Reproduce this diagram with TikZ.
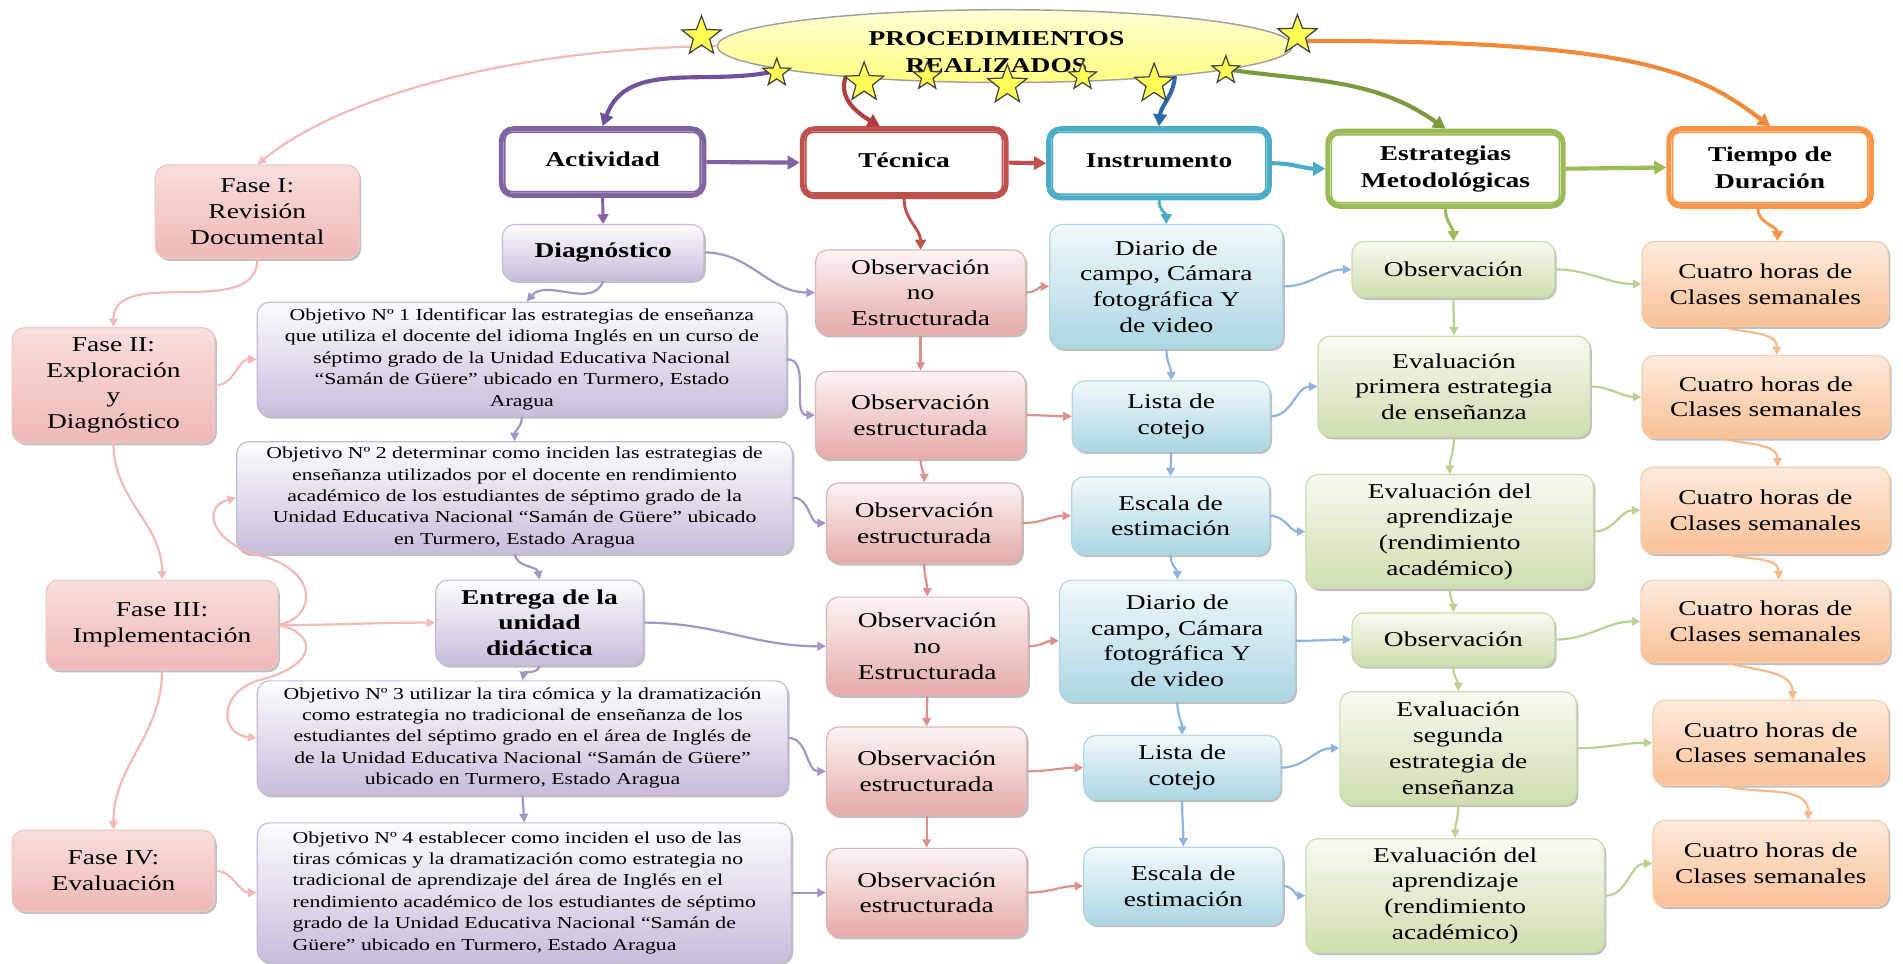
\documentclass[tikz,border=0pt]{standalone}
\usepackage{fontspec}
\setmainfont{Liberation Serif}[FakeStretch=1.3]
\usetikzlibrary{shapes.geometric,arrows.meta,calc,shadows}

\definecolor{cPur}{HTML}{8064A2}\definecolor{cPurD}{HTML}{6F529B}\definecolor{cPurL}{HTML}{A396C6}
\definecolor{cRed}{HTML}{C0504D}\definecolor{cRedD}{HTML}{B03F3C}\definecolor{cRedL}{HTML}{DB918F}
\definecolor{cBlu}{HTML}{4BACC6}\definecolor{cBluD}{HTML}{2F6BA8}\definecolor{cBluL}{HTML}{8FB3DC}
\definecolor{cGrn}{HTML}{9BBB59}\definecolor{cGrnD}{HTML}{7A9A3E}\definecolor{cGrnL}{HTML}{BBD193}
\definecolor{cOrg}{HTML}{F79646}\definecolor{cOrgD}{HTML}{F08A3A}\definecolor{cOrgL}{HTML}{F8B888}
\definecolor{cPinkL}{HTML}{F3B9B9}
\definecolor{phT}{HTML}{F9DEDD}\definecolor{phD}{HTML}{EEB8B6}\definecolor{phB}{HTML}{EBC9C8}
\definecolor{acT}{HTML}{FDFCFE}\definecolor{acD}{HTML}{C8BDDB}\definecolor{acB}{HTML}{C5BBD9}
\definecolor{teT}{HTML}{FCF4F4}\definecolor{teD}{HTML}{E5AAA8}\definecolor{teB}{HTML}{DDB5B4}
\definecolor{inT}{HTML}{F1F9FB}\definecolor{inD}{HTML}{ABD6E3}\definecolor{inB}{HTML}{B4D6E0}
\definecolor{esT}{HTML}{F8FAF2}\definecolor{esD}{HTML}{CEDEAE}\definecolor{esB}{HTML}{CCDCB0}
\definecolor{tiT}{HTML}{FDEBDD}\definecolor{tiD}{HTML}{F9C096}\definecolor{tiB}{HTML}{F6CDAE}
\definecolor{elT}{HTML}{FFFFD6}\definecolor{elD}{HTML}{FFFF80}\definecolor{elB}{HTML}{A0A0A0}
\definecolor{starY}{HTML}{FFFF55}

\begin{document}
\begin{tikzpicture}[x=0.5pt,y=0.5pt,
  box/.style={rounded corners=5pt, inner sep=1pt, align=center, line width=0.5pt,
    font=\fontsize{8.7}{10.6}\selectfont,
    drop shadow={shadow xshift=0.8pt, shadow yshift=-1pt, opacity=0.25, fill=black}},
  phasebox/.style={box, draw=phB, top color=phT, bottom color=phD},
  actbox/.style={box, draw=acB, top color=acT, bottom color=acD},
  objbox/.style={actbox, font=\fontsize{6.9}{8.8}\selectfont},
  tecbox/.style={box, draw=teB, top color=teT, bottom color=teD},
  insbox/.style={box, draw=inB, top color=inT, bottom color=inD},
  estbox/.style={box, draw=esB, top color=esT, bottom color=esD},
  timbox/.style={box, draw=tiB, top color=tiT, bottom color=tiD},
  hdr/.style={draw=#1, line width=2pt, fill=white, rounded corners=5pt, align=center,
    inner sep=1pt, font=\bfseries\fontsize{8.7}{11}\selectfont},
  starbig/.style={star, star points=5, star point ratio=2.4, minimum size=17pt, inner sep=0pt,
    draw=black!75, line width=0.5pt, fill=starY},
  starsmall/.style={starbig, minimum size=12pt},
  big/.style={line width=1.7pt, -{Triangle[length=5pt,width=5.5pt]}},
  mid/.style={line width=1.2pt, -{Triangle[length=4pt,width=4.5pt]}},
  thn/.style={line width=0.9pt, -{Triangle[length=3.5pt,width=3.5pt]}}
]
\fill[white] (0,0) rectangle (1568,-794);
\useasboundingbox (0,0) rectangle (1568,-794);

% ---------- title ----------
\node[ellipse, draw=elB, line width=0.6pt, top color=elT, bottom color=elD,
  minimum width=237pt, minimum height=30pt, inner sep=0pt] (title) at (828,-38) {};
\node[font=\bfseries\fontsize{8.7}{11}\selectfont, align=center] (titletext) at (821,-43) {PROCEDIMIENTOS\\REALIZADOS};

% ---------- headers ----------
\node[hdr=cPur, minimum width=83.5pt, minimum height=27.5pt] (act) at (496.5,-133.5) {\raisebox{2.2pt}{Actividad}};
\node[hdr=cRed, minimum width=84pt, minimum height=28pt] (tec) at (745,-134) {\raisebox{2.2pt}{Técnica}};
\node[hdr=cBlu, minimum width=91pt, minimum height=28.5pt] (ins) at (955,-134.5) {\raisebox{2.2pt}{Instrumento}};
\node[hdr=cGrn, minimum width=97pt, minimum height=31pt] (est) at (1191,-139) {Estrategias\\Metodológicas};
\node[hdr=cOrg, minimum width=83.5pt, minimum height=32pt] (tie) at (1458.5,-138) {Tiempo de\\Duración};
\foreach \nm/\cc in {act/cPur, tec/cRed, ins/cBlu, est/cGrn, tie/cOrg}{
  \draw[color=\cc, line width=0.7pt, rounded corners=3pt] ($(\nm.south west)+(5,5)$) rectangle ($(\nm.north east)+(-5,-5)$);
}

% ---------- phases ----------
\node[phasebox, minimum width=84pt, minimum height=38.5pt] (f1) at (212,-174.5) {Fase I:\\Revisión\\Documental};
\node[phasebox, minimum width=83.5pt, minimum height=47.5pt] (f2) at (93.5,-317.5) {Fase II:\\Exploración\\y\\Diagnóstico};
\node[phasebox, minimum width=95.5pt, minimum height=37pt] (f3) at (133.5,-515) {Fase III:\\Implementación};
\node[phasebox, minimum width=83.5pt, minimum height=33.5pt] (f4) at (93.5,-717.5) {Fase IV:\\Evaluación};

% ---------- activities ----------
\node[actbox, minimum width=83pt, minimum height=23pt] (diag) at (497,-208) {\textbf{Diagnóstico}};
\node[objbox, minimum width=218pt, minimum height=47pt] (o1) at (430,-296) {Objetivo Nº 1 Identificar las estrategias de enseñanza\\que utiliza el docente del idioma Inglés en un curso de\\séptimo grado de la Unidad Educativa Nacional\\“Samán de Güere” ubicado en Turmero, Estado\\Aragua};
\node[objbox, minimum width=229pt, minimum height=46pt] (o2) at (424,-410) {Objetivo Nº 2 determinar como inciden las estrategias de\\enseñanza utilizados por el docente en rendimiento\\académico de los estudiantes de séptimo grado de la\\Unidad Educativa Nacional “Samán de Güere” ubicado\\en Turmero, Estado Aragua};
\node[actbox, minimum width=85.5pt, minimum height=35pt] (ent) at (444.5,-513) {\textbf{Entrega de la}\\\textbf{unidad}\\\textbf{didáctica}};
\node[objbox, minimum width=218.5pt, minimum height=47pt] (o3) at (430.5,-608) {Objetivo Nº 3 utilizar la tira cómica y la dramatización\\como estrategia no tradicional de enseñanza de los\\estudiantes del séptimo grado en el área de Inglés de\\de la Unidad Educativa Nacional “Samán de Güere”\\ubicado en Turmero, Estado Aragua};
\node[objbox, align=left, minimum width=220pt, minimum height=57.5pt] (o4) at (432,-735.5) {Objetivo Nº 4 establecer como inciden el uso de las\\tiras cómicas y la dramatización como estrategia no\\tradicional de aprendizaje del área de Inglés en el\\rendimiento académico de los estudiantes de séptimo\\grado de la Unidad Educativa Nacional “Samán de\\Güere” ubicado en Turmero, Estado Aragua};

% ---------- techniques ----------
\node[tecbox, minimum width=86.5pt, minimum height=35pt] (t1) at (758.5,-241) {Observación\\no\\Estructurada};
\node[tecbox, minimum width=86.5pt, minimum height=36pt] (t2) at (758.5,-342) {Observación\\estructurada};
\node[tecbox, minimum width=80.5pt, minimum height=33pt] (t3) at (761.5,-431) {Observación\\estructurada};
\node[tecbox, minimum width=83pt, minimum height=40.5pt] (t4) at (764,-532.5) {Observación\\no\\Estructurada};
\node[tecbox, minimum width=82.5pt, minimum height=36.5pt] (t5) at (763.5,-635.5) {Observación\\estructurada};
\node[tecbox, minimum width=82.5pt, minimum height=36.5pt] (t6) at (763.5,-735.5) {Observación\\estructurada};

% ---------- instruments ----------
\node[insbox, minimum width=96pt, minimum height=51pt] (i1) at (961,-236) {Diario de\\campo, Cámara\\fotográfica Y\\de video};
\node[insbox, minimum width=81.5pt, minimum height=29pt] (i2) at (965,-343) {Lista de\\cotejo};
\node[insbox, minimum width=81.5pt, minimum height=32pt] (i3) at (964.5,-425) {Escala de\\estimación};
\node[insbox, minimum width=97pt, minimum height=50pt] (i4) at (970,-528) {Diario de\\campo, Cámara\\fotográfica Y\\de video};
\node[insbox, minimum width=81pt, minimum height=26.5pt] (i5) at (974,-632.5) {Lista de\\cotejo};
\node[insbox, minimum width=82pt, minimum height=32pt] (i6) at (975,-730) {Escala de\\estimación};

% ---------- strategies ----------
\node[estbox, minimum width=83.5pt, minimum height=23pt] (e1) at (1197.5,-222) {Observación};
\node[estbox, minimum width=112pt, minimum height=41.5pt] (e2) at (1198,-318.5) {Evaluación\\primera estrategia\\de enseñanza};
\node[estbox, minimum width=118.5pt, minimum height=47pt] (e3) at (1194.5,-438) {Evaluación del\\aprendizaje\\(rendimiento\\académico)};
\node[estbox, minimum width=83.5pt, minimum height=22pt] (e4) at (1197.5,-527) {Observación};
\node[estbox, minimum width=97.5pt, minimum height=46.5pt] (e5) at (1201.5,-616.5) {Evaluación\\segunda\\estrategia de\\enseñanza};
\node[estbox, minimum width=123pt, minimum height=47pt] (e6) at (1199,-738) {Evaluación del\\aprendizaje\\(rendimiento\\académico)};

% ---------- time ----------
\node[timbox, minimum width=101.5pt, minimum height=35pt] (c1) at (1454.5,-234) {Cuatro horas de\\Clases semanales};
\node[timbox, minimum width=102pt, minimum height=34pt] (c2) at (1455,-327) {Cuatro horas de\\Clases semanales};
\node[timbox, minimum width=102.5pt, minimum height=35.5pt] (c3) at (1454.5,-420.5) {Cuatro horas de\\Clases semanales};
\node[timbox, minimum width=102.5pt, minimum height=34pt] (c4) at (1454.5,-512) {Cuatro horas de\\Clases semanales};
\node[timbox, minimum width=97pt, minimum height=35pt] (c5) at (1459,-612) {Cuatro horas de\\Clases semanales};
\node[timbox, minimum width=97pt, minimum height=35.5pt] (c6) at (1459,-711.5) {Cuatro horas de\\Clases semanales};

% ---------- title connectors ----------
\draw[big, cPurD] (title.186) to[out=195,in=70] (act.north);
\draw[big, cRedD] (title.191) to[out=-110,in=150] ($(tec.north)+(-20,0)$);
\draw[big, cBluD] (title.-10) to[out=-95,in=85] (ins.north);
\draw[big, cGrnD] (title.-6) to[out=-8,in=145] (est.north);
\draw[big, cOrgD] (title.1) .. controls (1350,-32) and (1400,-60) .. (tie.north);
\draw[thn, cPinkL] (title.west) .. controls (420,-40) and (280,-80) .. (f1.north);

% ---------- header chain ----------
\draw[big, cPur] (act.east) -- (tec.west);
\draw[big, cRed] (tec.east) -- (ins.west);
\draw[big, cBlu] (ins.east) to[out=0,in=180] (est.west);
\draw[big, cGrn] (est.east) -- (tie.west);

\draw[mid, cPur] (act.south) -- (diag.north);
\draw[mid, cRed] (tec.south) to[out=-90,in=90] (t1.north);
\draw[mid, cBlu] (ins.south) to[out=-90,in=90] (i1.north);
\draw[mid, cGrn] (est.south) to[out=-90,in=90] (e1.north);
\draw[mid, cOrg] ($(tie.south)+(-10,0)$) to[out=-90,in=90] ($(c1.north)+(10,0)$);

% ---------- column chains ----------
\foreach \a/\b in {t1/t2, t2/t3, t3/t4, t4/t5, t5/t6}{
  \draw[thn, cRedL] (\a.south) to[out=-90,in=90] (\b.north);}
\foreach \a/\b in {i1/i2, i2/i3, i3/i4, i4/i5, i5/i6}{
  \draw[thn, cBluL] (\a.south) to[out=-90,in=90] (\b.north);}
\foreach \a/\b in {e1/e2, e2/e3, e3/e4, e4/e5, e5/e6}{
  \draw[thn, cGrnL] (\a.south) to[out=-90,in=90] (\b.north);}
\draw[thn, cOrgL] ($(c1.south)+(-35,0)$) to[out=-15,in=90] ($(c2.north)+(9,0)$);
\draw[thn, cOrgL] ($(c2.south)+(-35,0)$) to[out=-15,in=90] ($(c3.north)+(10,0)$);
\draw[thn, cOrgL] ($(c3.south)+(-33,0)$) to[out=-15,in=90] ($(c4.north)+(11,0)$);
\draw[thn, cOrgL] ($(c4.south)+(-30,0)$) to[out=-15,in=90] ($(c5.north)+(18,0)$);
\draw[thn, cOrgL] ($(c5.south)+(-38,0)$) to[out=-15,in=90] ($(c6.north)+(31,0)$);

\draw[thn, cPurL] (diag.south) to[out=-110,in=50] ($(o1.north)+(4,0)$);
\draw[thn, cPurL] (o1.south) to[out=-90,in=90] (o2.north);
\draw[thn, cPurL] (o2.south) to[out=-80,in=100] (ent.north);
\draw[thn, cPurL] (ent.south) to[out=-100,in=80] (o3.north);
\draw[thn, cPurL] (o3.south) -- (o4.north);

\draw[thn, cPinkL] (f1.south) to[out=-90,in=90] (f2.north);
\draw[thn, cPinkL] (f2.south) to[out=-90,in=90] (f3.north);
\draw[thn, cPinkL] (f3.south) to[out=-90,in=90] (f4.north);

% ---------- phases to activities ----------
\draw[thn, cPinkL] (f2.east) to[out=0,in=180] (o1.west);
\draw[thn, cPinkL] (f3.east) .. controls (262,-508) and (262,-470) .. (215,-458) .. controls (175,-448) and (165,-418) .. (o2.west);
\draw[thn, cPinkL] (f3.east) to[out=0,in=180] (ent.west);
\draw[thn, cPinkL] (f3.east) .. controls (262,-522) and (262,-548) .. (215,-560) .. controls (180,-569) and (180,-605) .. (o3.west);
\draw[thn, cPinkL] (f4.east) to[out=0,in=180] (o4.west);

% ---------- activities to techniques ----------
\draw[thn, cPurL] (diag.east) to[out=0,in=180] (t1.west);
\draw[thn, cPurL] (o1.east) to[out=0,in=180] (t2.west);
\draw[thn, cPurL] (o2.east) to[out=0,in=180] (t3.west);
\draw[thn, cPurL] (ent.east) to[out=0,in=180] (t4.west);
\draw[thn, cPurL] (o3.east) to[out=0,in=180] (t5.west);
\draw[thn, cPurL] (o4.east) to[out=0,in=180] (t6.west);

% ---------- techniques to instruments ----------
\foreach \a/\b in {t1/i1, t2/i2, t3/i3, t4/i4, t5/i5, t6/i6}{
  \draw[thn, cRedL] (\a.east) to[out=0,in=180] (\b.west);}
% ---------- instruments to strategies ----------
\foreach \a/\b in {i1/e1, i2/e2, i3/e3, i4/e4, i5/e5, i6/e6}{
  \draw[thn, cBluL] (\a.east) to[out=0,in=180] (\b.west);}
% ---------- strategies to time ----------
\foreach \a/\b in {e1/c1, e2/c2, e3/c3, e4/c4, e5/c5, e6/c6}{
  \draw[thn, cGrnL] (\a.east) to[out=0,in=180] (\b.west);}

% ---------- stars ----------
\node[starbig] (s1) at (578,-30) {};
\node[starsmall] (s2) at (640,-60) {};
\node[starbig] (s3) at (712,-68) {};
\node[starsmall] (s4) at (764,-63) {};
\node[starbig] (s5) at (830,-70) {};
\node[starsmall] (s6) at (892,-63) {};
\node[starbig] (s7) at (951,-69) {};
\node[starsmall] (s8) at (1010,-58) {};
\node[starbig] (s9) at (1069,-29) {};
\end{tikzpicture}
\end{document}
